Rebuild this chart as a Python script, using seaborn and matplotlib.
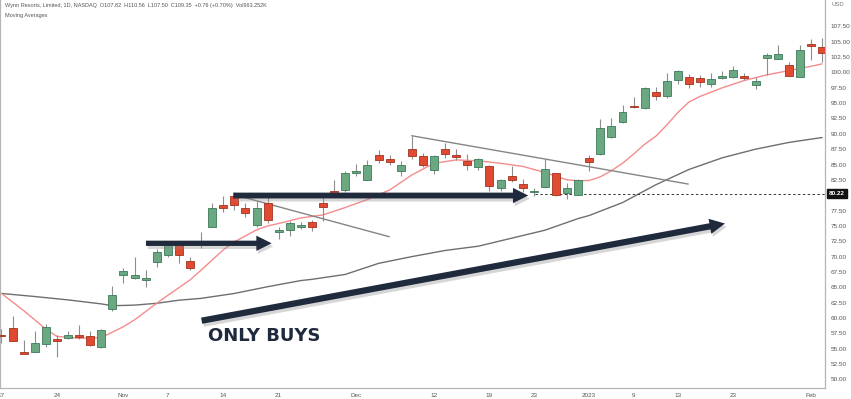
import numpy as np
import pandas as pd
import matplotlib
matplotlib.use("Agg")
import matplotlib.pyplot as plt
import matplotlib.patheffects as pe
import matplotlib.transforms as mtransforms
import seaborn as sns

# ---------------- data ----------------
dates = ["Oct 17", "Oct 18", "Oct 19", "Oct 20", "Oct 21", "Oct 24", "Oct 25", "Oct 26", "Oct 27", "Oct 28", "Oct 31",
         "Nov 1", "Nov 2", "Nov 3", "Nov 4", "Nov 7", "Nov 8", "Nov 9", "Nov 10", "Nov 11", "Nov 14", "Nov 15",
         "Nov 16", "Nov 17", "Nov 18", "Nov 21", "Nov 22", "Nov 23", "Nov 25", "Nov 28", "Nov 29", "Nov 30",
         "Dec 1", "Dec 2", "Dec 5", "Dec 6", "Dec 7", "Dec 8", "Dec 9", "Dec 12", "Dec 13", "Dec 14", "Dec 15",
         "Dec 16", "Dec 19", "Dec 20", "Dec 21", "Dec 22", "Dec 23", "Dec 27", "Dec 28", "Dec 29", "Dec 30",
         "Jan 3", "Jan 4", "Jan 5", "Jan 6", "Jan 9", "Jan 10", "Jan 11", "Jan 12", "Jan 13", "Jan 17", "Jan 18",
         "Jan 19", "Jan 20", "Jan 23", "Jan 24", "Jan 25", "Jan 26", "Jan 27", "Jan 30", "Jan 31", "Feb 1", "Feb 2"]

opens = [57.2, 58.3, 54.4, 54.5, 55.7, 56.5, 56.8, 57.1, 57.0, 55.2, 61.5,
         67.0, 66.5, 66.15, 69.2, 70.2, 71.9, 69.35, 72.0, 74.9, 78.35, 79.9,
         77.85, 75.2, 78.7, 74.0, 74.3, 74.9, 75.7, 78.7, 80.7, 80.85,
         83.6, 82.5, 86.5, 85.95, 83.9, 87.6, 86.4, 84.1, 87.6, 86.55, 85.6,
         84.55, 84.75, 81.2, 83.1, 81.9, 80.45, 81.4, 83.55, 80.3, 80.1,
         86.1, 86.65, 89.5, 91.95, 94.6, 94.15, 96.85, 96.2, 98.7, 99.2, 99.05,
         98.15, 99.1, 99.2, 99.45, 97.95, 102.35, 102.2, 101.25, 99.3, 104.6, 104.1]
highs = [58.2, 60.3, 56.4, 57.9, 59.1, 57.2, 57.9, 58.8, 57.9, 58.2, 65.2,
         68.1, 70.0, 67.8, 71.2, 72.3, 72.3, 70.0, 74.0, 78.8, 79.9, 80.6,
         78.7, 79.1, 79.7, 74.8, 75.85, 75.6, 76.0, 79.5, 82.4, 83.9,
         85.1, 85.7, 87.35, 86.5, 85.6, 89.65, 86.8, 86.6, 88.55, 87.5, 86.7,
         86.05, 85.0, 82.6, 84.75, 82.6, 81.2, 85.85, 83.7, 82.05, 82.6,
         86.55, 92.35, 92.5, 94.7, 95.95, 97.55, 97.65, 99.85, 100.4, 99.7, 99.6,
         99.85, 100.3, 101.05, 99.95, 99.3, 103.1, 104.45, 101.7, 104.45, 105.4, 105.55]
lows = [56.0, 56.3, 54.1, 54.4, 55.3, 53.7, 56.6, 56.6, 55.5, 55.1, 61.2,
        65.7, 66.4, 65.0, 68.3, 69.9, 69.0, 67.9, 71.4, 74.8, 77.3, 77.6,
        76.4, 74.8, 75.5, 72.8, 73.35, 74.45, 74.2, 75.85, 79.8, 80.6,
        83.1, 82.4, 85.2, 84.9, 83.2, 85.85, 84.65, 83.45, 86.05, 85.75, 84.1,
        84.1, 80.75, 80.75, 82.2, 80.6, 79.9, 81.2, 79.9, 79.35, 80.0,
        83.95, 86.5, 89.25, 91.7, 94.2, 94.05, 95.5, 95.8, 98.05, 97.5, 97.65,
        97.65, 98.9, 99.1, 98.75, 97.25, 99.6, 102.15, 99.35, 99.2, 102.0, 101.75]
closes = [57.0, 56.3, 54.2, 56.0, 58.6, 56.3, 57.2, 56.9, 55.6, 58.1, 63.7,
          67.7, 67.0, 66.3, 70.75, 71.9, 70.3, 68.1, 72.6, 77.9, 78.0, 78.35,
          77.05, 77.9, 75.95, 74.3, 75.4, 75.2, 74.8, 78.1, 80.4, 83.65,
          84.0, 85.0, 85.75, 85.35, 84.9, 86.4, 85.0, 86.4, 86.7, 86.3, 85.0,
          85.9, 81.55, 82.5, 82.5, 81.2, 80.5, 84.25, 80.0, 81.15, 82.45,
          85.45, 90.9, 91.3, 93.5, 94.3, 97.4, 96.2, 98.6, 100.3, 98.05, 98.4,
          98.9, 99.35, 100.4, 99.15, 98.65, 102.85, 103.0, 99.4, 103.65, 104.3, 103.1]

# fast moving average (red) read at selected sessions (index into dates)
fast_ma_idx = [0, 2, 4, 5, 7, 9, 10, 11, 12, 14, 15, 17, 18, 20, 21, 23, 24, 25, 27, 29, 31, 33, 35, 37,
               39, 41, 43, 45, 47, 49, 51, 52, 53, 54, 55, 56, 57, 58, 59, 60, 61, 62, 63, 65, 67, 69,
               71, 73, 74]
fast_ma_val = [64.0, 61.2, 58.2, 57.0, 56.7, 56.8, 57.7, 58.6, 59.7, 62.4, 63.7, 66.2, 67.8, 71.1, 72.4,
               74.35, 75.0, 75.4, 76.3, 76.8, 78.0, 79.3, 80.85, 83.3, 85.2, 85.75, 85.6, 85.2, 84.7,
               83.7, 82.5, 82.35, 82.4, 83.0, 84.0, 85.2, 86.7, 88.3, 89.6, 91.45, 93.5, 95.2, 96.1,
               97.5, 98.7, 99.6, 100.3, 101.0, 101.4]
# slow moving average (gray)
slow_ma_idx = [0, 3, 6, 9, 10, 12, 14, 16, 18, 21, 24, 27, 28, 31, 34, 37, 40, 43, 46, 49, 52, 53, 56,
               59, 62, 65, 68, 71, 74]
slow_ma_val = [64.0, 63.5, 62.95, 62.3, 62.0, 62.1, 62.4, 62.9, 63.2, 64.0, 65.1, 66.1, 66.3, 67.1, 68.9,
               70.0, 71.0, 71.7, 73.0, 74.3, 76.2, 76.7, 78.8, 81.7, 84.2, 86.1, 87.5, 88.6, 89.4]

x_tick_idx = [0, 5, 11, 15, 20, 25, 32, 39, 44, 48, 53, 57, 61, 66, 73]
x_tick_labels = ["17", "24", "Nov", "7", "14", "21", "Dec", "12", "19", "23", "2023", "9", "13", "23", "Feb"]
y_ticks = [50.0 + 2.5 * k for k in range(24) if k != 12]   # 80.00 is covered by the last-price tag
last_level = 80.22

header = "Wynn Resorts, Limited, 1D, NASDAQ  O107.82  H110.56  L107.50  C109.35  +0.76 (+0.70%)  Vol963.252K"

# ---------------- styling ----------------
sns.set_theme(style="white")
plt.rcParams["font.family"] = ["Liberation Sans", "DejaVu Sans"]

GREEN_FILL, GREEN_EDGE = "#6aa882", "#3c7a57"
RED_FILL, RED_EDGE = "#e04a30", "#a3321f"
WICK = "#8e8e8e"
NAVY = "#1f2a3d"
AXIS_TXT = "#555555"

df = pd.DataFrame({"date": dates, "open": opens, "high": highs, "low": lows, "close": closes})
df["i"] = np.arange(len(df))
df["up"] = df["close"] >= df["open"]
df["bottom"] = df[["open", "close"]].min(axis=1)
df["height"] = (df["close"] - df["open"]).abs().clip(lower=0.3)

W, H = 851, 399
fig = plt.figure(figsize=(W / 100, H / 100), dpi=100)
ax = fig.add_axes([0, 11 / H, 825 / W, 388 / H])

# wicks
ax.vlines(df["i"], df["low"], df["high"], color=WICK, lw=0.8, zorder=2)
# bodies
ax.bar(df["i"], df["height"], bottom=df["bottom"], width=0.72,
       color=np.where(df["up"], GREEN_FILL, RED_FILL),
       edgecolor=np.where(df["up"], GREEN_EDGE, RED_EDGE), linewidth=0.6, zorder=3)

# moving averages
fast = pd.DataFrame({"i": fast_ma_idx, "v": fast_ma_val})
slow = pd.DataFrame({"i": slow_ma_idx, "v": slow_ma_val})
sns.lineplot(data=slow, x="i", y="v", ax=ax, color="#6f6f6f", lw=1.0, zorder=1)
sns.lineplot(data=fast, x="i", y="v", ax=ax, color="#f48c8c", lw=1.0, zorder=1)

# hand-drawn trend lines
ax.plot([21.15, 34.97], [80.0, 73.24], color="#858585", lw=1.0, zorder=2)
ax.plot([36.99, 61.93], [89.69, 81.82], color="#858585", lw=1.0, zorder=2)

# dashed last-price line
ax.hlines(last_level, 48.1, 75, color="#333333", lw=0.7, linestyles=(0, (2.5, 2.5)), zorder=2)


def arrow(x0, y0, x1, y1, tw=0.4, hw=1.1, hl=1.1):
    a = ax.annotate("", xy=(x1, y1), xytext=(x0, y0),
                    arrowprops=dict(arrowstyle=f"simple,head_length={hl},head_width={hw},tail_width={tw}",
                                    mutation_scale=10, color=NAVY, shrinkA=0, shrinkB=0, lw=0),
                    zorder=6)
    a.arrow_patch.set_path_effects([pe.SimplePatchShadow(offset=(1.2, -2.2), shadow_rgbFace="#8a8a8a",
                                                         alpha=0.35), pe.Normal()])


arrow(13.03, 72.17, 24.36, 72.17, tw=0.38)
arrow(20.9, 79.95, 47.5, 79.95, tw=0.42)
arrow(18.05, 59.56, 65.24, 75.39, tw=0.45)

ax.text(18.62, 57.1, "ONLY BUYS", color=NAVY, fontsize=13, fontweight="bold",
        family=["DejaVu Sans"], ha="left", va="center", zorder=6)

# axes
ax.set_xlim(-0.135, 74.26)
ax.set_ylim(48.6, 111.8)
ax.set_xlabel("")
ax.set_ylabel("")
ax.yaxis.tick_right()
ax.set_yticks(y_ticks)
ax.set_yticklabels([f"{v:.2f}" for v in y_ticks], fontsize=4.6, color=AXIS_TXT)
ax.set_xticks(x_tick_idx)
ax.set_xticklabels(x_tick_labels, fontsize=4.6, color=AXIS_TXT)
ax.tick_params(axis="both", length=0)
ax.tick_params(axis="y", pad=4)
ax.tick_params(axis="x", pad=3.5)
ax.spines["top"].set_visible(False)
for s in ["left", "right", "bottom"]:
    ax.spines[s].set_color("#b5b5b5")
    ax.spines[s].set_linewidth(0.9)
ax.grid(False)

# last price tag
trans = mtransforms.blended_transform_factory(ax.transAxes, ax.transData)
ax.text(1.0045, last_level, f"{last_level:.2f}", transform=trans, fontsize=4.6, color="white",
        fontweight="bold", ha="left", va="center",
        bbox=dict(boxstyle="square,pad=0.3", fc="#111111", ec="#111111"), clip_on=False, zorder=7)

fig.text(5 / W, 1 - 6 / H, header, fontsize=4.0, color="#555555", ha="left", va="center")
fig.text(5 / W, 1 - 15 / H, "Moving Averages", fontsize=4.0, color="#555555", ha="left", va="center")
fig.text(831 / W, 1 - 5 / H, "USD", fontsize=4.2, color="#777777", ha="left", va="center")

fig.savefig("out.png", dpi=100)
